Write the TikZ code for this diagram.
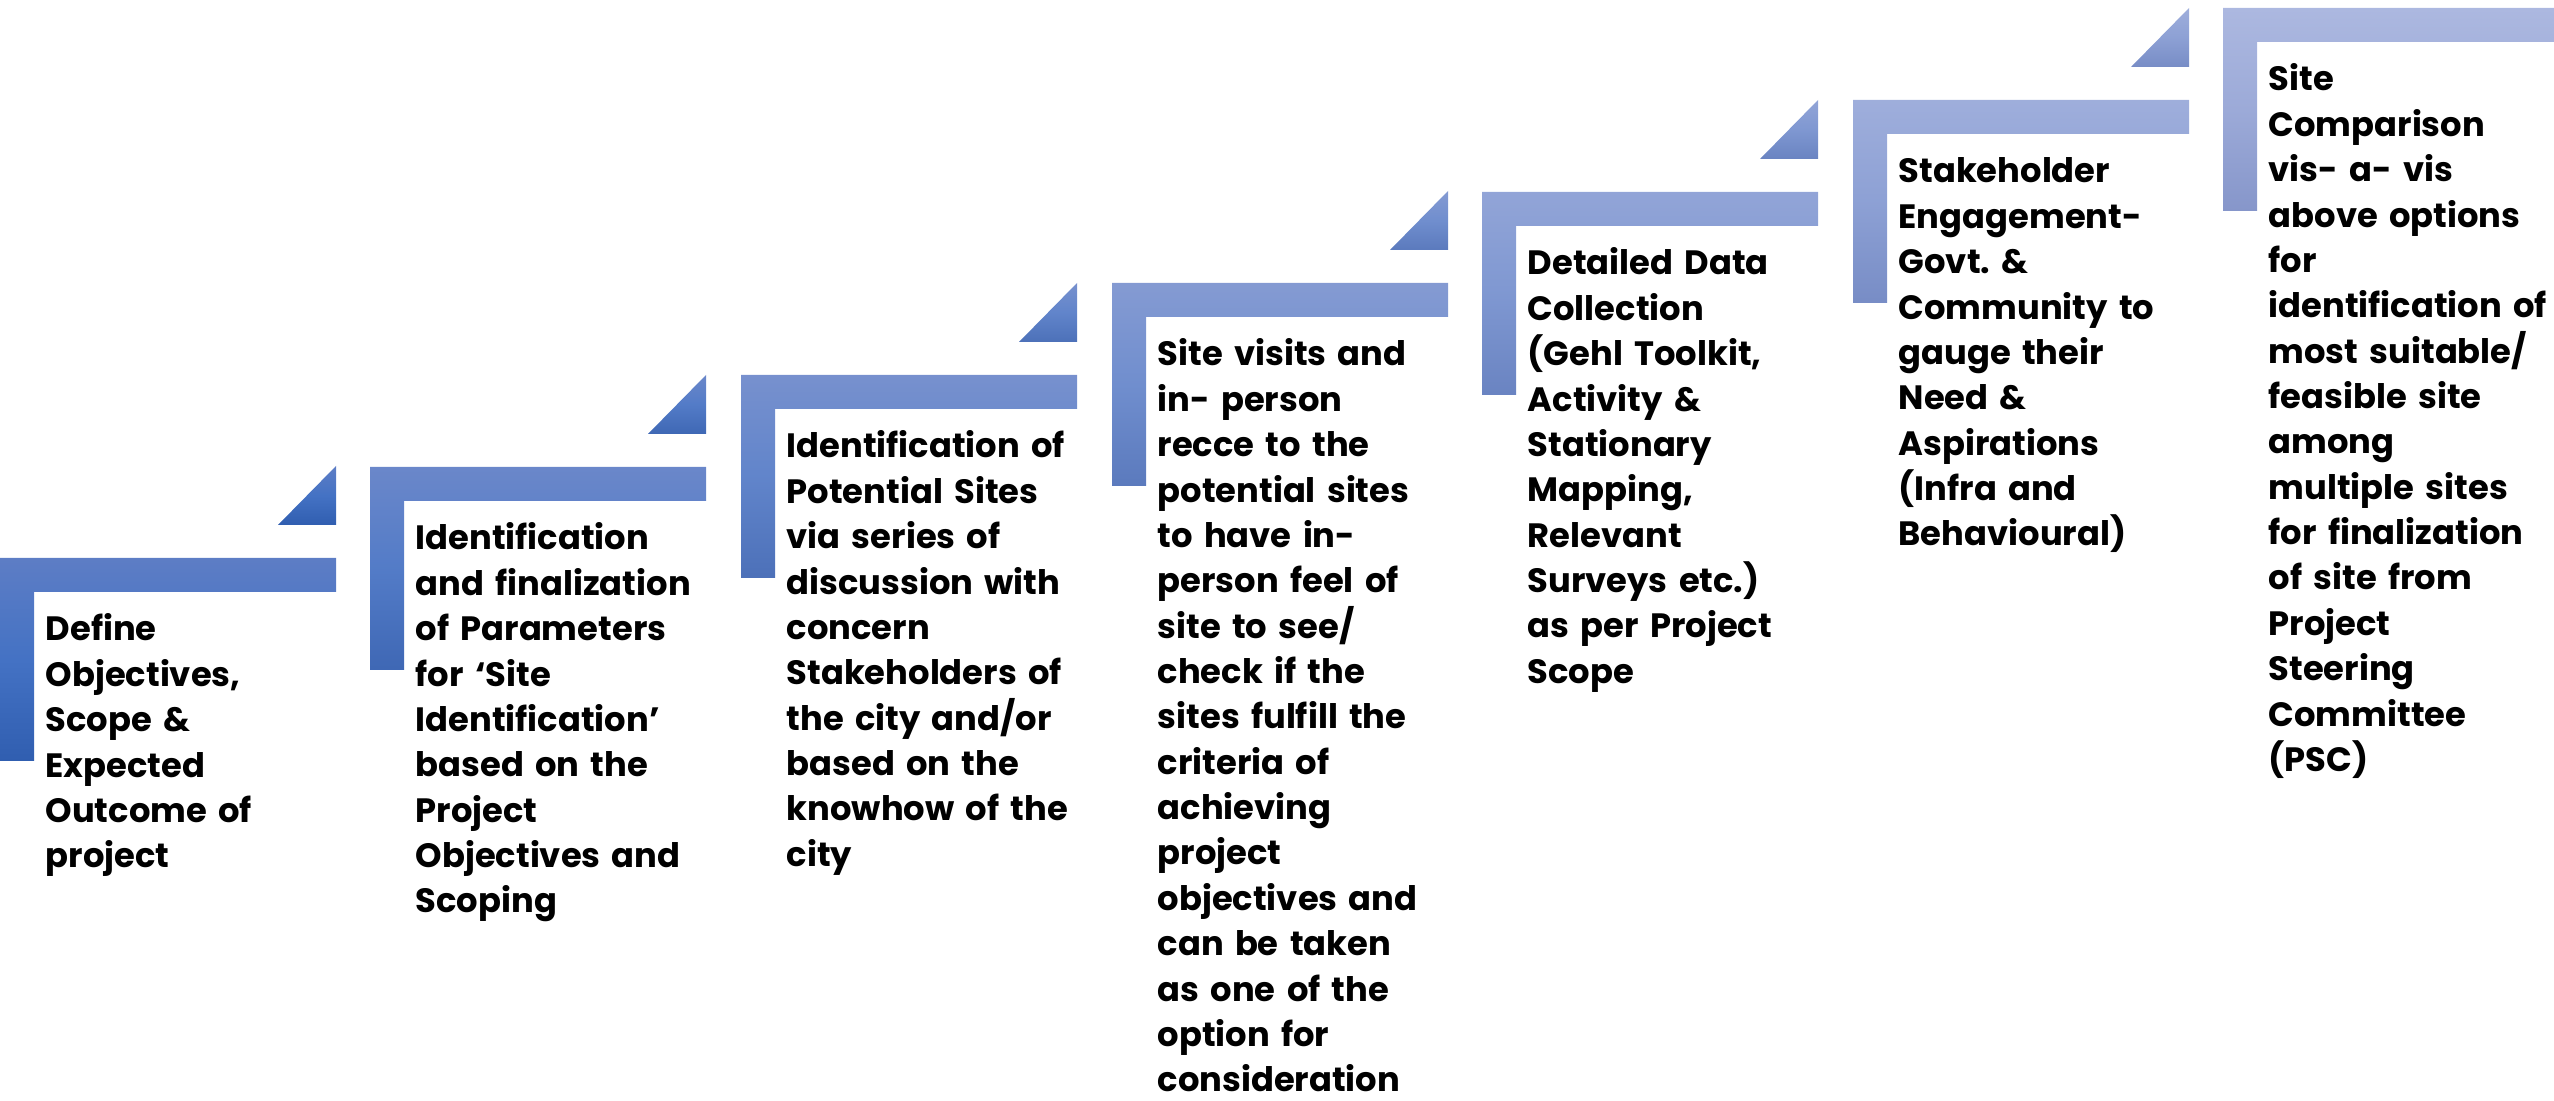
\documentclass[tikz,border=0pt]{standalone}
\usepackage{fontspec}
\setmainfont{Poppins}
\usepackage{xcolor}
\usepackage{tikz}
\frenchspacing

% step colours: first step deep blue, last step pale lavender
\definecolor{topD}{RGB}{93,125,197}
\definecolor{midD}{RGB}{68,114,196}
\definecolor{botD}{RGB}{48,94,176}
\definecolor{topL}{RGB}{172,184,224}
\definecolor{midL}{RGB}{156,170,216}
\definecolor{botL}{RGB}{134,150,202}

\tikzset{
  rise/.style={top color=topL!#1!topD, bottom color=botL!#1!botD, middle color=midL!#1!midD},
  stepbar/.pic={
    \shade[rise=#1] (0,0) -- ++(336,0) -- ++(0,34) -- ++(-302,0) -- ++(0,169) -- ++(-34,0) -- cycle;
  },
  steptip/.pic={
    \shade[rise=#1] (336,-92) -- (336,-33) -- (278,-33) -- cycle;
  },
  steptext/.style={anchor=base west, inner sep=0pt, text width=320\pgflinewidth, align=left,
    font=\fontsize{9.6}{12.9}\selectfont\bfseries, text=black},
  every picture/.style={line cap=round, line join=round}
}

\begin{document}
\begin{tikzpicture}[x=0.01cm, y=-0.01cm]
    \useasboundingbox (0,0) rectangle (2554,1101);

    \pic at (0,558)    {stepbar=0};  \pic at (0,558)    {steptip=0};
    \pic at (370,467)  {stepbar=17}; \pic at (370,467)  {steptip=17};
    \pic at (741,375)  {stepbar=33}; \pic at (741,375)  {steptip=33};
    \pic at (1112,283) {stepbar=50}; \pic at (1112,283) {steptip=50};
    \pic at (1482,192) {stepbar=67}; \pic at (1482,192) {steptip=67};
    \pic at (1853,100) {stepbar=83}; \pic at (1853,100) {steptip=83};
    \pic at (2223,8)   {stepbar=100};

    \node[steptext] (s1) at (45,641) {Define\\Objectives,\\Scope \&\\Expected\\Outcome of\\project};
    \node[steptext] (s2) at (415,550) {Identification\\and finalization\\of Parameters\\for ‘Site\\Identification’\\based on the\\Project\\Objectives and\\Scoping};
    \node[steptext] (s3) at (786,458) {Identification of\\Potential Sites\\via series of\\discussion with\\concern\\Stakeholders of\\the city and/or\\based on the\\knowhow of the\\city};
    \node[steptext] (s4) at (1157,366) {Site visits and\\in- person\\recce to the\\potential sites\\to have in-\\person feel of\\site to see/\\check if the\\sites fulfill the\\criteria of\\achieving\\project\\objectives and\\can be taken\\as one of the\\option for\\consideration};
    \node[steptext] (s5) at (1527,275) {Detailed Data\\Collection\\(Gehl Toolkit,\\Activity \&\\Stationary\\Mapping,\\Relevant\\Surveys etc.)\\as per Project\\Scope};
    \node[steptext] (s6) at (1898,183) {Stakeholder\\Engagement-\\Govt. \&\\Community to\\gauge their\\Need \&\\Aspirations\\(Infra and\\Behavioural)};
    \node[steptext] (s7) at (2268,91) {Site\\Comparison\\vis- a- vis\\above options\\for\\identification of\\most suitable/\\feasible site\\among\\multiple sites\\for finalization\\of site from\\Project\\Steering\\Committee\\(PSC)};
\end{tikzpicture}
\end{document}
